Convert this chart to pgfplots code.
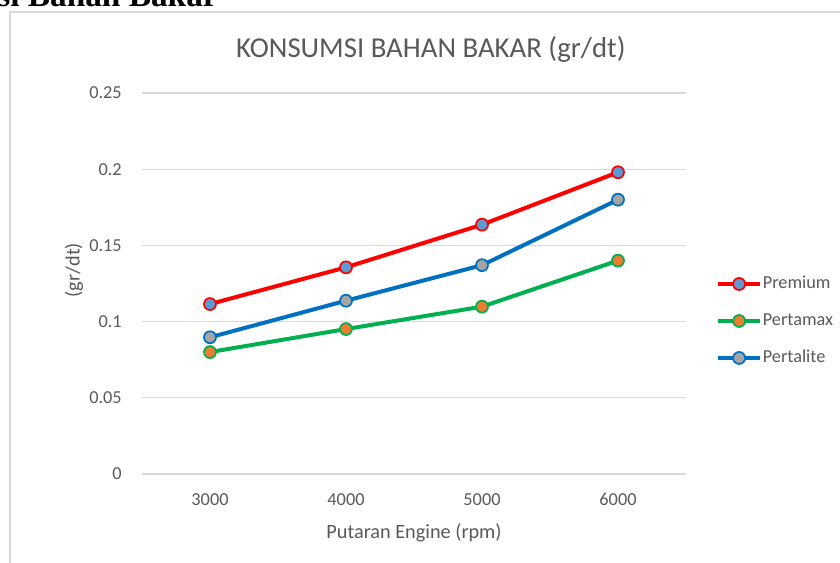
\documentclass[border=0pt]{standalone}
\usepackage{pgfplots}
\pgfplotsset{compat=1.18}
\usepackage{fontspec}
\setmainfont{Carlito}
\newfontfamily\timesbf{Liberation Serif}
\definecolor{txt}{HTML}{595959}
\definecolor{gridc}{HTML}{D9D9D9}
\definecolor{cred}{HTML}{FF0000}
\definecolor{cgreen}{HTML}{00B050}
\definecolor{cblue}{HTML}{0070C0}
\definecolor{fblue}{HTML}{5B9BD5}
\definecolor{forange}{HTML}{ED7D31}
\definecolor{fgray}{HTML}{A5A5A5}
\begin{document}
\begin{tikzpicture}
\useasboundingbox (0,0) rectangle (630pt,422.25pt);
\begin{scope}
\clip (0,0) rectangle (630pt,422.25pt);
\node[anchor=base east, inner sep=0pt, font=\timesbf\bfseries\fontsize{25}{28}\selectfont] at (163.5pt,417pt) {asi Bahan Bakar};
\draw[gridc, line width=1.1pt] (7.5pt,-5pt) -- (7.5pt,413.25pt) -- (640pt,413.25pt);
\end{scope}
\begin{axis}[
  at={(106.5pt,66.75pt)}, anchor=south west,
  scale only axis, width=408pt, height=285.75pt,
  xmin=2500, xmax=6500, ymin=0, ymax=0.25,
  xtick={3000,4000,5000,6000},
  ytick={0,0.05,0.1,0.15,0.2,0.25},
  yticklabels={0,0.05,0.1,0.15,0.2,0.25},
  xticklabels={3000,4000,5000,6000},
  axis line style={draw=none},
  tick style={draw=none},
  ymajorgrids, grid style={gridc, line width=0.9pt},
  /pgf/number format/assume math mode=true,
  ticklabel style={font=\fontsize{13.7}{16}\selectfont, text=txt},
  yticklabel style={inner sep=0pt, xshift=-15pt},
  xticklabel style={inner sep=0pt, yshift=-14.5pt},
  title={KONSUMSI BAHAN BAKAR (gr/dt)},
  title style={at={(axis description cs:0.531,1.094)}, anchor=center, font=\fontsize{21.6}{25}\selectfont, text=txt},
  xlabel={Putaran Engine (rpm)},
  xlabel style={at={(axis description cs:0.5,-0.155)}, anchor=center, font=\fontsize{15.2}{18}\selectfont, text=txt},
  ylabel={(gr/dt)},
  ylabel style={at={(axis description cs:-0.125,0.535)}, anchor=center, font=\fontsize{15.2}{18}\selectfont, text=txt},
  legend style={at={(axis description cs:1.055,0.4016)}, anchor=west, draw=none, fill=none, inner sep=0pt,
    row sep=14.75pt, column sep=0.5pt,
    nodes={inner sep=0pt, text height=10pt, text depth=3pt, font=\fontsize{13.7}{16}\selectfont, text=txt}},
  legend cell align=left,
  legend image code/.code={\draw[mark repeat=2,mark phase=2,#1] plot coordinates {(0pt,0pt) (15.75pt,0pt) (31.5pt,0pt)};},
]
\addplot[cred, line width=3pt, mark=*, mark size=4.5pt, mark options={fill=fblue, draw=cred, line width=1.3pt}]
  coordinates {(3000,0.1115) (4000,0.1356) (5000,0.1636) (6000,0.198)};
\addlegendentry{Premium}
\addplot[cgreen, line width=3pt, mark=*, mark size=4.5pt, mark options={fill=forange, draw=cgreen, line width=1.3pt}]
  coordinates {(3000,0.080) (4000,0.0951) (5000,0.1098) (6000,0.140)};
\addlegendentry{Pertamax}
\addplot[cblue, line width=3pt, mark=*, mark size=4.5pt, mark options={fill=fgray, draw=cblue, line width=1.3pt}]
  coordinates {(3000,0.0897) (4000,0.1137) (5000,0.137) (6000,0.180)};
\addlegendentry{Pertalite}
\end{axis}
\end{tikzpicture}
\end{document}
